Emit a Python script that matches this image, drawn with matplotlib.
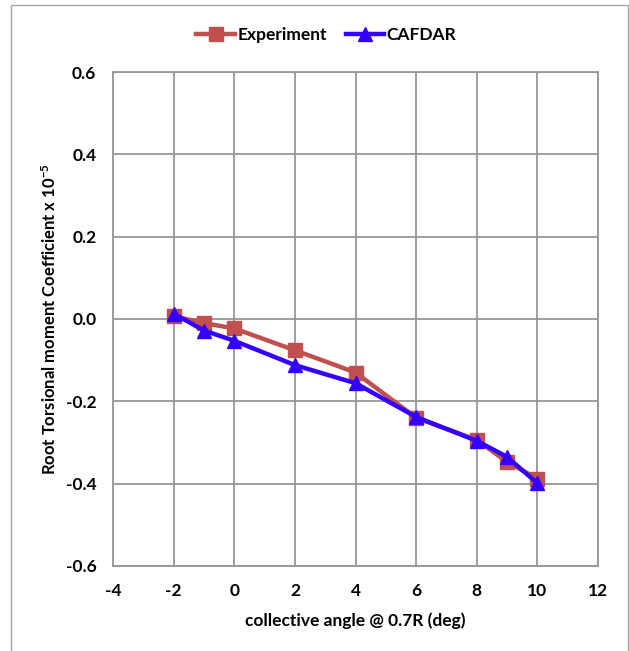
import matplotlib
matplotlib.use('Agg')
import matplotlib.pyplot as plt

# data
angle_exp = [-2, -1, 0, 2, 4, 6, 8, 9, 10]
torsion_exp = [0.007, -0.010, -0.023, -0.076, -0.130, -0.240, -0.294, -0.347, -0.388]
angle_cfd = [-2, -1, 0, 2, 4, 6, 8, 9, 10]
torsion_cfd = [0.013, -0.028, -0.053, -0.112, -0.156, -0.238, -0.296, -0.335, -0.399]
x_ticks = [-4, -2, 0, 2, 4, 6, 8, 10, 12]
y_ticks = [-0.6, -0.4, -0.2, 0.0, 0.2, 0.4, 0.6]

plt.rcParams['font.family'] = ['Lato', 'DejaVu Sans']
plt.rcParams['font.weight'] = 'bold'
plt.rcParams['mathtext.fontset'] = 'custom'
plt.rcParams['mathtext.rm'] = 'Lato:bold'
plt.rcParams['mathtext.default'] = 'rm'

fig = plt.figure(figsize=(6.29, 6.51), dpi=100)
ax = fig.add_axes([0.1797, 0.1306, 0.7710, 0.7588])

# outer frame
frame = plt.Rectangle((11 / 629, -0.01), 617 / 629, 1 - 5 / 651 + 0.01,
                      transform=fig.transFigure, fill=False,
                      edgecolor='#a6a6a6', linewidth=1.0)
fig.patches.append(frame)

ax.plot(angle_exp, torsion_exp, color='#c0504d', linewidth=3.2,
        marker='s', markersize=10, label='Experiment', zorder=3)
ax.plot(angle_cfd, torsion_cfd, color='#3300ff', linewidth=3.2,
        marker='^', markersize=10, label='CAFDAR', zorder=4)

ax.set_xlim(-4, 12)
ax.set_ylim(-0.6, 0.6)
ax.set_xticks(x_ticks)
ax.set_yticks(y_ticks)
ax.set_xticklabels([str(t) for t in x_ticks])
ax.set_yticklabels(['%.1f' % t for t in y_ticks])
ax.tick_params(length=0, labelsize=12.5, pad=12)
ax.grid(True, color='#969696', linewidth=1.3)
ax.set_axisbelow(True)
for s in ax.spines.values():
    s.set_color('#969696')
    s.set_linewidth(1.3)

ax.set_xlabel('collective angle @ 0.7R (deg)', fontsize=12.5, fontweight='bold', labelpad=10)
ax.set_ylabel('Root Torsional moment Coefficient x 10$^{-5}$', fontsize=12,
              fontweight='bold', labelpad=5)

ax.legend(loc='lower center', bbox_to_anchor=(0.44, 1.045), ncol=2, frameon=False,
          fontsize=12.5, handlelength=2.2, handletextpad=0.15, columnspacing=1.1,
          borderaxespad=0)

fig.savefig('out.png', dpi=100)
